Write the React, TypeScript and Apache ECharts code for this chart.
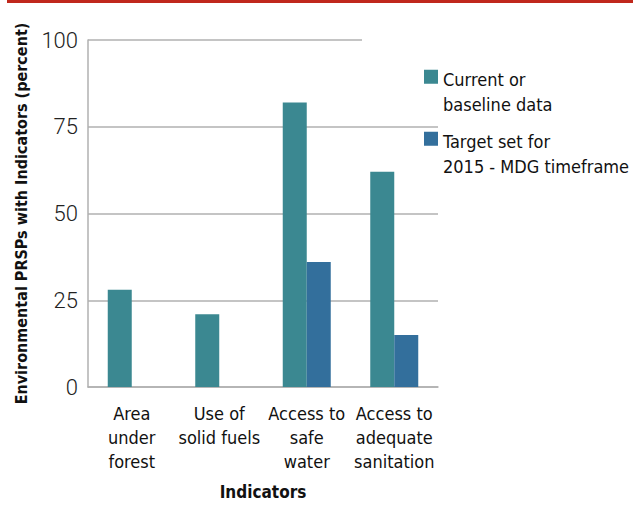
import React, { useEffect, useRef } from "react";
import * as echarts from "echarts";

const categories = [
  "Area\nunder\nforest",
  "Use of\nsolid fuels",
  "Access to\nsafe\nwater",
  "Access to\nadequate\nsanitation",
];
const seriesNames = ["Current or\nbaseline data", "Target set for\n2015 - MDG timeframe"];
const currentValues = [28, 21, 82, 62];
const targetValues = [null, null, 36, 15];
const yTicks = [0, 25, 50, 75, 100];

const NARROW = "'Liberation Sans Narrow', 'DejaVu Sans Condensed', sans-serif";
// square in the top part of a 14x50 box, so that it sits beside the first text line
const LEGEND_ICON = "path://M0,5.5h14v14h-14z M0,49.98h0.02v0.02h-0.02z";

export default function App() {
  const ref = useRef<HTMLDivElement>(null);
  useEffect(() => {
    const chart = echarts.init(ref.current!, null, { renderer: "svg" });
    chart.setOption({
      animation: false,
      backgroundColor: "#ffffff",
      grid: { left: 88, top: 40, width: 350, height: 350, containLabel: false },
      legend: {
        orient: "vertical",
        left: 424,
        top: 67,
        padding: 0,
        itemWidth: 14,
        itemHeight: 50,
        itemGap: 12,
        icon: LEGEND_ICON,
        textStyle: { fontFamily: NARROW, fontSize: 18, color: "#111", lineHeight: 25 },
        data: seriesNames,
      },
      xAxis: {
        type: "category",
        data: categories,
        axisLine: { show: true, lineStyle: { color: "#b0b0b0", width: 1.5 } },
        axisTick: { show: false },
        axisLabel: {
          fontFamily: NARROW,
          fontSize: 18,
          lineHeight: 24,
          color: "#111",
          margin: 14,
          interval: 0,
        },
        name: "Indicators",
        nameLocation: "middle",
        nameGap: 96,
        nameTextStyle: { fontFamily: NARROW, fontSize: 17, fontWeight: "bold", color: "#111" },
      },
      yAxis: {
        type: "value",
        min: yTicks[0],
        max: yTicks[yTicks.length - 1],
        interval: 25,
        axisLine: { show: true, lineStyle: { color: "#b0b0b0", width: 1.5 } },
        axisTick: { show: false },
        axisLabel: {
          fontFamily: "Roboto, sans-serif",
          fontWeight: 300,
          fontSize: 22,
          color: "#222",
          margin: 10,
        },
        splitLine: {
          show: true,
          lineStyle: { color: ["#b0b0b0", "#b0b0b0", "#b0b0b0", "#b0b0b0", "rgba(0,0,0,0)"], width: 1.5 },
        },
        name: "Environmental PRSPs with Indicators (percent)",
        nameLocation: "middle",
        nameGap: 59,
        nameTextStyle: { fontFamily: NARROW, fontSize: 16, fontWeight: "bold", color: "#111" },
      },
      graphic: [
        { type: "rect", shape: { x: 7, y: 0, width: 626, height: 3 }, style: { fill: "#c0281c" } },
        {
          type: "line",
          shape: { x1: 88, y1: 40, x2: 362, y2: 40 },
          style: { stroke: "#b0b0b0", lineWidth: 1.5 },
        },
      ],
      series: [
        {
          name: seriesNames[0],
          type: "bar",
          data: currentValues,
          barWidth: 24,
          barGap: "0%",
          itemStyle: { color: "#3b8891" },
        },
        {
          name: seriesNames[1],
          type: "bar",
          data: targetValues,
          barWidth: 24,
          barGap: "0%",
          itemStyle: { color: "#336f9c" },
        },
      ],
    });
    return () => chart.dispose();
  }, []);
  return (
    <div
      ref={ref}
      style={{ position: "fixed", left: 0, top: 0, width: 633, height: 505 }}
    />
  );
}
